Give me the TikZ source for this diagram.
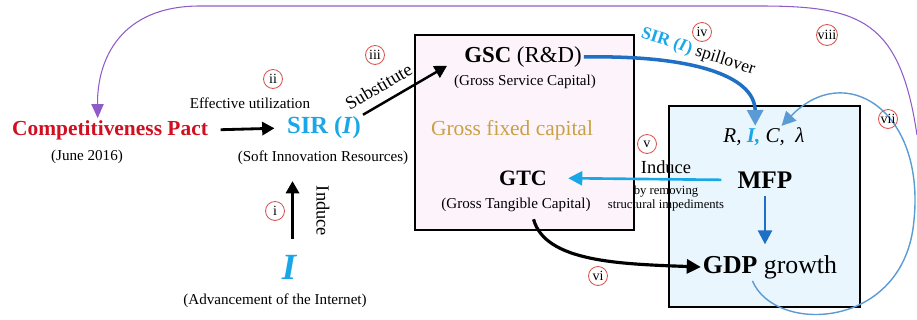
\documentclass[tikz,border=0pt]{standalone}
\usepackage{fontspec}
\setmainfont{Liberation Serif}
\usetikzlibrary{arrows.meta, positioning}
\definecolor{cpred}{HTML}{D01020}
\definecolor{sircyan}{HTML}{1AA7E8}
\definecolor{mfpblue}{HTML}{1F6FC5}
\definecolor{loopblue}{HTML}{5B9BD5}
\definecolor{fbpurple}{HTML}{8E5CC8}
\definecolor{gfcgold}{HTML}{C9A043}
\definecolor{gfcpink}{HTML}{FDF4FB}
\definecolor{mfpfill}{HTML}{EAF6FD}
\definecolor{numred}{HTML}{D9534F}

\begin{document}
\begin{tikzpicture}[
  x=0.02cm, y=-0.02cm,
  every node/.style={inner sep=1pt},
  numtag/.style={circle, draw=numred, line width=0.5pt, minimum size=0.38cm, inner sep=0pt, font=\fontsize{8}{8}\selectfont},
  subtext/.style={font=\fontsize{8.6}{10}\selectfont},
  edgetext/.style={font=\fontsize{10.5}{12}\selectfont},
  capbox/.style={rectangle, draw, line width=1pt},
  bigarrow/.style={line width=1.6pt, -{Triangle[length=7pt, width=7.5pt]}},
]
\useasboundingbox (0,0) rectangle (917,320);

% capital boxes
\node[capbox, fill=gfcpink, minimum width=4.38cm, minimum height=3.9cm] (gfcbox) at (524.5,132.5) {};
\node[capbox, fill=mfpfill, minimum width=3.82cm, minimum height=4.02cm] (mfpbox) at (764.5,206.5) {};

\node[font=\fontsize{12.2}{14}\selectfont\bfseries, text=cpred] (pact) at (110,130) {Competitiveness Pact};
\node[subtext] (june) at (87,157) {(June 2016)};
\node[font=\fontsize{14}{16}\selectfont\bfseries, text=sircyan] (sir) at (324,128) {SIR (\textit{I})};
\node[subtext] (soft) at (323,158) {(Soft Innovation Resources)};
\node[font=\fontsize{21}{22}\selectfont\bfseries\itshape, text=sircyan] (inet) at (289,267) {I};
\node[subtext] (adv) at (275,301) {(Advancement of the Internet)};

\node[font=\fontsize{13}{15}\selectfont] (gsc) at (523,57) {\textbf{GSC} (R\&D)};
\node[subtext] (gscsub) at (525,82) {(Gross Service Capital)};
\node[font=\fontsize{12.2}{14}\selectfont, text=gfcgold] (gfix) at (512,130) {Gross fixed capital};
\node[font=\fontsize{12.5}{14}\selectfont\bfseries] (gtc) at (523,178) {GTC};
\node[subtext] (gtcsub) at (516,205) {(Gross Tangible Capital)};

\node[font=\fontsize{12}{14}\selectfont\itshape] (rate) at (764,137) {R, \textcolor{sircyan}{\bfseries I,} C,~ λ};
\node[font=\fontsize{14.4}{16}\selectfont\bfseries] (mfp) at (765,180) {MFP};
\node[font=\fontsize{14.7}{16}\selectfont] (gdp) at (770,267) {\textbf{GDP} growth};

% i, ii, iii
\draw[bigarrow, shorten <=6pt, shorten >=6pt] (pact.east) -- (sir.west);
\node[subtext] (effutil) at (250,103) {Effective utilization};
\node[numtag] (n2) at (273,79) {ii};
\draw[bigarrow] ([xshift=2pt, yshift=8pt]inet.north) -- ([xshift=2pt, yshift=-8pt]inet.north |- soft.south);
\node[edgetext, rotate=-90] (induce1) at (323,211) {Induce};
\node[numtag] (n1) at (275,211) {i};
\draw[bigarrow, line width=1.4pt, shorten >=10pt] (sir.north east) -- (gsc.west)
  node[pos=0.24, above=4pt, sloped, edgetext] (subst) {Substitute};
\node[numtag] (n3) at (375,55) {iii};

% iv spillover
\draw[line width=2pt, mfpblue, -{Triangle[length=9pt, width=9pt, color=loopblue]}]
  (gsc.east) .. controls (690,55) and (755,75) .. ([xshift=-5pt]rate.north);
\node[rotate=-18, font=\fontsize{10}{12}\selectfont] (spill) at (698,52) {\textcolor{sircyan}{\bfseries SIR (\textit{I})} spillover};
\node[numtag] (n4) at (702,32) {iv};

% v induce
\draw[line width=1.5pt, sircyan, -{Triangle[length=8pt, width=8pt]}, shorten <=8pt, shorten >=11pt] (mfp.west) -- (gtc.east);
\node[numtag] (n5) at (647,144) {v};
\node[edgetext] (induce2) at (666,167) {Induce};
\node[font=\fontsize{7.2}{8}\selectfont, align=center] (remove) at (666,198) {by removing\\structural impediments};
\draw[line width=1.5pt, mfpblue, -{Triangle[length=8pt, width=8pt]}, shorten <=3pt, shorten >=5pt] (mfp.south) -- (mfp.south |- gdp.north);

% vi
\draw[line width=1.8pt, -{Triangle[length=8pt, width=8pt]}]
  ([xshift=10pt, yshift=-3pt]gtcsub.south) .. controls (545,262) and (620,264) .. (gdp.west);
\node[numtag] (n6) at (598,276) {vi};

% vii loop
\draw[line width=0.8pt, loopblue, -{Triangle[length=8pt, width=8pt]}]
  ([xshift=-10pt]gdp.south) .. controls (775,335) and (905,330) .. (914,220)
  .. controls (925,110) and (845,60) .. ([xshift=10pt]rate.north);
\node[numtag] (n7) at (888,119) {vii};

% viii feedback
\coordinate (fbstart) at (917,135);
\draw[line width=0.6pt, fbpurple, -{Triangle[length=8pt, width=7pt]}]
  (fbstart) .. controls (900,20) and (860,6) .. (760,6) -- (200,6)
  .. controls (120,6) and (97,60) .. ([xshift=-7pt]pact.north);
\node[numtag] (n8) at (827,35) {viii};
\end{tikzpicture}
\end{document}
